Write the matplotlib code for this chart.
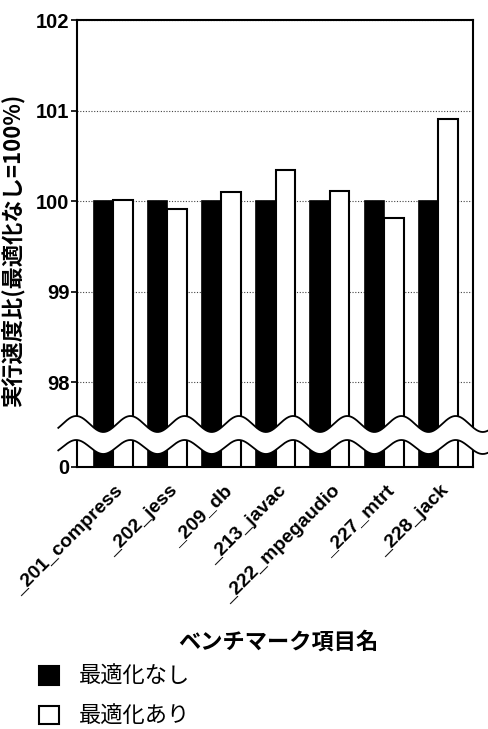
import numpy as np
import matplotlib.pyplot as plt
from matplotlib.patches import Patch, Polygon
from matplotlib.transforms import blended_transform_factory, ScaledTranslation

benchmarks = ["_201_compress", "_202_jess", "_209_db", "_213_javac",
              "_222_mpegaudio", "_227_mtrt", "_228_jack"]
no_opt = [100, 100, 100, 100, 100, 100, 100]
with_opt = [100.01, 99.91, 100.10, 100.34, 100.11, 99.81, 100.91]
upper_ticks = [98, 99, 100, 101, 102]
lower_ticks = [0]
series_names = ["最適化なし", "最適化あり"]
xlabel = "ベンチマーク項目名"
ylabel = "実行速度比(最適化なし=100%)"

W, H = 489, 729
jp = ['Noto Sans CJK JP', 'DejaVu Sans']
num = ['Liberation Sans', 'DejaVu Sans']

fig = plt.figure(figsize=(W / 100, H / 100), dpi=100)


def box(left, top, right, bottom):
    # pixel box -> figure fraction
    return [left / W, 1 - bottom / H, (right - left) / W, (bottom - top) / H]


ax_low = fig.add_axes(box(77, 440, 473, 467))
ax_up = fig.add_axes(box(77, 20, 473, 440))
ax_up.set_zorder(2)

x = np.arange(len(benchmarks))
w = 0.36
for ax in (ax_up, ax_low):
    ax.bar(x - w / 2, no_opt, w, color='black', edgecolor='black', lw=1.2, zorder=3)
    ax.bar(x + w / 2, with_opt, w, color='white', edgecolor='black', lw=1.5, zorder=3)
    for s in ax.spines.values():
        s.set_linewidth(1.5)

ax_up.spines['bottom'].set_visible(False)
ax_low.spines['top'].set_visible(False)

# wavy break band across both axes
blend = blended_transform_factory(ax_up.transData, fig.transFigure)
xs = np.linspace(-1.01, 6.92, 800)
wave = np.cos(2 * np.pi * (xs + w / 2))
top_edge = 1 - (424 + 8 * wave) / H
bot_edge = 1 - (447 + 7 * wave) / H
band = Polygon(np.column_stack([np.r_[xs, xs[::-1]], np.r_[top_edge, bot_edge[::-1]]]),
               closed=True, facecolor='white', edgecolor='none',
               transform=blend, clip_on=False, zorder=10)
ax_up.add_patch(band)
ax_up.plot(xs, top_edge, color='black', lw=1.3, transform=blend, clip_on=False, zorder=11)
ax_up.plot(xs, bot_edge, color='black', lw=1.3, transform=blend, clip_on=False, zorder=11)

for ax in (ax_up, ax_low):
    ax.set_xlim(-0.665, 6.64)
ax_up.set_ylim(97.36, 102)
ax_low.set_ylim(0, 0.298)

ax_up.set_yticks(upper_ticks)
ax_up.set_yticklabels([str(t) for t in upper_ticks], family=num, weight='bold', size=14.5)
ax_up.yaxis.grid(True, linestyle=(0, (1, 1.5)), color='#444444', lw=0.8)
ax_up.set_axisbelow(True)
ax_up.tick_params(axis='x', bottom=False, labelbottom=False)
ax_up.tick_params(axis='y', length=4, width=1.2, pad=1.5)

ax_low.set_yticks(lower_ticks)
ax_low.set_yticklabels([str(t) for t in lower_ticks], family=num, weight='bold', size=14.5)
ax_low.tick_params(axis='y', length=4, width=1.2, pad=1.5)
ax_low.set_xticks(x)
ax_low.set_xticklabels(benchmarks, rotation=45, ha='right', va='top',
                       rotation_mode='anchor', family=num, weight='bold', size=14)
ax_low.tick_params(axis='x', length=0, pad=11)
for lab in ax_low.get_xticklabels():
    lab.set_transform(lab.get_transform() + ScaledTranslation(2 / 100, 0, fig.dpi_scale_trans))

fig.text(13 / W, 1 - 250 / H, ylabel, rotation=90, ha='center', va='center',
         family=jp, weight='bold', size=16)
fig.text(278 / W, 1 - 642 / H, xlabel, ha='center', va='center',
         family=jp, weight='bold', size=16)

handles = [Patch(facecolor='black', edgecolor='black', lw=1.5),
           Patch(facecolor='white', edgecolor='black', lw=1.5)]
fig.legend(handles, series_names, loc='upper left', bbox_to_anchor=(39 / W, 1 - 665 / H),
           frameon=False, borderaxespad=0, borderpad=0, handlelength=0.9,
           handleheight=0.9, handletextpad=0.9, labelspacing=0.75,
           prop={'family': jp, 'size': 16})

fig.savefig('out.png', dpi=100)
